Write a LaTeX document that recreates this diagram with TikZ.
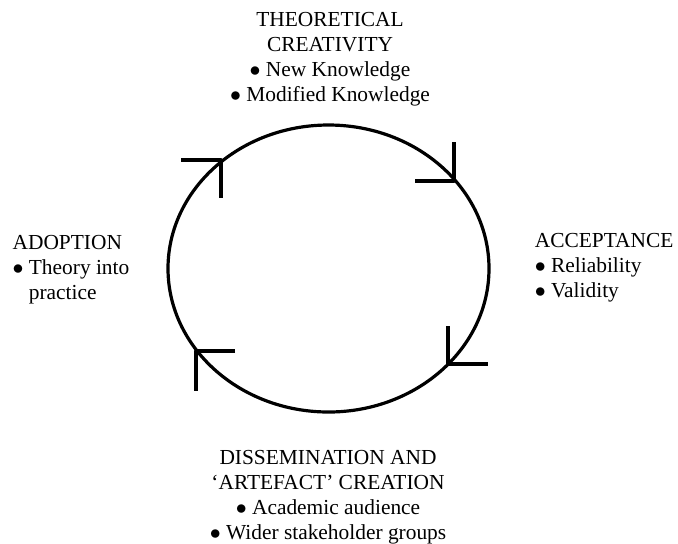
\documentclass[tikz,border=0pt]{standalone}
\usepackage{fontspec}
\setmainfont{Liberation Serif}
\newcommand{\itm}{$\bullet$\ }
\begin{document}
\begin{tikzpicture}[x=0.5pt, y=-0.5pt, line join=round, line width=1.6pt,
  font=\fontsize{10.7}{12.4}\selectfont,
  lbl/.style={inner sep=0pt, align=center},
  tick/.style={line width=1.6pt, line cap=butt}]
\useasboundingbox (0,0) rectangle (678,543);
% the cycle
\draw (328.5,268.5) ellipse [x radius=160.5, y radius=143.5];
\coordinate (tl) at (221,160);
\coordinate (tr) at (454,181);
\coordinate (br) at (448,364);
\coordinate (bl) at (196,351);
\draw[tick] ([xshift=-20pt]tl) -- (tl) -- ([yshift=-19pt]tl);
\draw[tick] ([xshift=-19.5pt]tr) -- (tr) -- ([yshift=19.5pt]tr);
\draw[tick] ([yshift=19pt]br) -- (br) -- ([xshift=20pt]br);
\draw[tick] ([xshift=19.5pt]bl) -- (bl) -- ([yshift=-20pt]bl);
% the four stages
\node[lbl, anchor=north] (theory) at (330,11) {THEORETICAL\\CREATIVITY\\\itm New Knowledge\\\itm Modified Knowledge};
\node[lbl, anchor=north east, align=left] (accept) at (675,232) {ACCEPTANCE\\\itm Reliability\\\itm Validity};
\node[lbl, anchor=north] (dissem) at (328,449) {DISSEMINATION AND\\‘ARTEFACT’ CREATION\\\itm Academic audience\\\itm Wider stakeholder groups};
\node[lbl, anchor=north west, align=left] (adopt) at (11,234) {ADOPTION\\\itm Theory into\\\phantom{\itm}practice};
\end{tikzpicture}
\end{document}
